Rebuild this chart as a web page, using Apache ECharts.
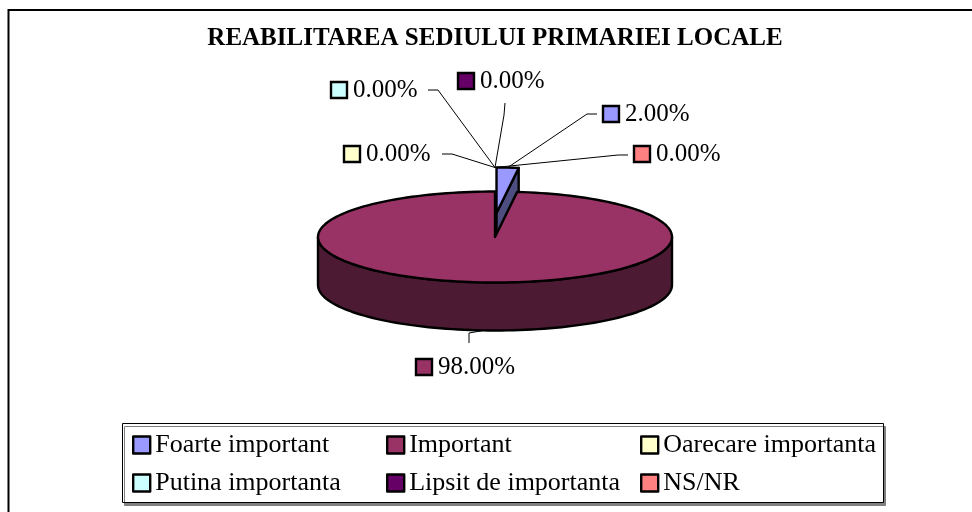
<!DOCTYPE html>
<html>
<head>
<meta charset="utf-8">
<title>Reabilitarea sediului primariei locale</title>
<script src="https://cdn.jsdelivr.net/npm/echarts@6/dist/echarts.min.js"></script>
<style>
  html, body { margin: 0; padding: 0; background: #fff; }
  #chart { width: 972px; height: 512px; }
</style>
</head>
<body>
<div id="chart"></div>
<script>
// date din grafic
const categories = ['Foarte important', 'Important', 'Oarecare importanta', 'Putina importanta', 'Lipsit de importanta', 'NS/NR'];
const percents = [2, 98, 0, 0, 0, 0];
const colors = ['#9999FF', '#993366', '#FFFFCC', '#CCFFFF', '#660066', '#FF8080'];

// geometria placintei 3D (pixeli)
const PIE = { cx: 495, cy: 237, rx: 177, ry: 45.5, depth: 48 };
const explodePx = [24, 0, 24, 24, 24, 24];
// pozitia etichetelor: [x iconita, y centru] si punctele liniei de legatura
const labelPos = [[602, 114], [415, 367], [343, 154], [330, 90], [457, 81], [633, 154]];
const leaderPts = [
  [[597, 114], [587, 114]],
  [[469, 343], [469, 333]],
  [[442, 154], [452, 154]],
  [[428, 90], [438, 90]],
  [[505, 103], [504, 115]],
  [[628, 155], [618, 155]]
];
const FONT = '"Liberation Serif", "Times New Roman", serif';

const total = percents.reduce((a, b) => a + b, 0);
const angles = [];
let acc = 0;
percents.forEach(v => {
  const a0 = 90 - 360 * acc / total;
  acc += v;
  angles.push([a0, 90 - 360 * acc / total]);
});

const rad = d => d * Math.PI / 180;

function shade(hex, k) {
  const n = parseInt(hex.slice(1), 16);
  const r = Math.round(((n >> 16) & 255) * k);
  const g = Math.round(((n >> 8) & 255) * k);
  const b = Math.round((n & 255) * k);
  return 'rgb(' + r + ',' + g + ',' + b + ')';
}

function pt(c, a, dz) {
  return [c[0] + PIE.rx * Math.cos(rad(a)), c[1] - PIE.ry * Math.sin(rad(a)) + dz];
}

function arc(c, from, to, dz) {
  const n = Math.max(2, Math.ceil(Math.abs(to - from) / 2));
  const pts = [];
  for (let k = 0; k <= n; k++) pts.push(pt(c, from + (to - from) * k / n, dz));
  return pts;
}

function renderSlice(params, api) {
  const i = params.dataIndex;
  const v = api.value(0);
  const [a0, a1] = angles[i];
  const mid = (a0 + a1) / 2;
  const c = [PIE.cx + explodePx[i] * Math.cos(rad(mid)), PIE.cy - explodePx[i] * Math.sin(rad(mid))];
  const d = PIE.depth;
  const side = shade(colors[i], 0.5);
  const line = { stroke: '#000', lineWidth: 2.4, lineJoin: 'round' };
  const children = [];

  if (v > 0) {
    // fete radiale vizibile
    if (Math.cos(rad(a0)) < -1e-6) {
      const p = pt(c, a0, 0);
      children.push({ type: 'polygon', shape: { points: [c, p, [p[0], p[1] + d], [c[0], c[1] + d]] }, style: Object.assign({ fill: side }, line) });
    }
    if (-Math.cos(rad(a1)) < -1e-6) {
      const p = pt(c, a1, 0);
      children.push({ type: 'polygon', shape: { points: [c, p, [p[0], p[1] + d], [c[0], c[1] + d]] }, style: Object.assign({ fill: side }, line) });
    }
    // peretele exterior din fata
    for (let k = -2; k <= 2; k++) {
      const lo = Math.max(a1, 180 + 360 * k);
      const hi = Math.min(a0, 360 + 360 * k);
      if (hi - lo > 0.01) {
        const pts = arc(c, lo, hi, 0).concat(arc(c, hi, lo, d));
        children.push({ type: 'polygon', shape: { points: pts }, style: Object.assign({ fill: side }, line) });
      }
    }
    // fata de sus
    children.push({ type: 'polygon', shape: { points: [c].concat(arc(c, a0, a1, 0)) }, style: Object.assign({ fill: colors[i] }, line) });
  }

  // eticheta cu linie de legatura
  const anchor = pt(c, mid, Math.sin(rad(mid)) < 0 ? d : 0);
  children.push({
    type: 'polyline', z2: 10,
    shape: { points: [leaderPts[i][0], leaderPts[i][1], anchor] },
    style: { stroke: '#000', lineWidth: 1, fill: null }
  });
  const lp = labelPos[i];
  children.push({
    type: 'rect', z2: 10,
    shape: { x: lp[0] + 1, y: lp[1] - 8, width: 16, height: 16 },
    style: { fill: colors[i], stroke: '#000', lineWidth: 2.4 }
  });
  children.push({
    type: 'text', z2: 10, x: lp[0] + 23, y: lp[1],
    style: { text: v.toFixed(2) + '%', font: '25px ' + FONT, fill: '#000', verticalAlign: 'middle', align: 'left' }
  });
  return { type: 'group', children: children };
}

const chart = echarts.init(document.getElementById('chart'));
const colX = [132, 386, 640];

const option = {
  animation: false,
  graphic: [
    { type: 'rect', z: -10, shape: { x: 8.5, y: 10, width: 1000, height: 600 }, style: { fill: '#fff', stroke: '#000', lineWidth: 2 } },
    { type: 'rect', z: -5, shape: { x: 122.5, y: 423.5, width: 761, height: 79 },
      style: { fill: '#fff', stroke: '#000', lineWidth: 1, shadowColor: '#808080', shadowOffsetX: 2, shadowOffsetY: 3, shadowBlur: 0 } },
    { type: 'text', x: 495, y: 39,
      style: { text: 'REABILITAREA SEDIULUI PRIMARIEI LOCALE', font: 'bold 25px ' + FONT, fill: '#000', align: 'center', verticalAlign: 'middle' } }
  ],
  legend: colX.map((x, c) => ({
    orient: 'vertical',
    left: x,
    top: 432,
    padding: 0,
    itemGap: 12,
    itemWidth: 17,
    itemHeight: 17,
    icon: 'rect',
    selectedMode: false,
    data: [categories[c], categories[c + 3]],
    itemStyle: { borderColor: '#000', borderWidth: 2.4 },
    textStyle: { fontFamily: FONT, fontSize: 26, color: '#000', lineHeight: 26 }
  })),
  series: [
    {
      type: 'custom',
      coordinateSystem: 'none',
      silent: true,
      data: percents.map(v => [v]),
      renderItem: renderSlice
    },
    {
      // serie ascunsa doar pentru legenda
      type: 'pie',
      silent: true,
      radius: 0,
      center: [-300, -300],
      label: { show: false },
      labelLine: { show: false },
      data: categories.map((n, i) => ({ name: n, value: percents[i], itemStyle: { color: colors[i] } }))
    }
  ]
};

chart.setOption(option);
</script>
</body>
</html>
